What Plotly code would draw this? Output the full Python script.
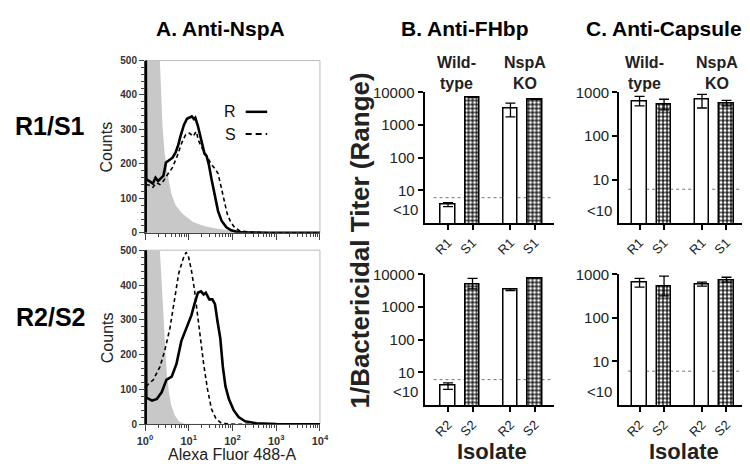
import math
import plotly.graph_objects as go

# ---------------- Panel A data: flow cytometry histograms ----------------
# x values are log10(Alexa Fluor 488-A), y values are counts
CTRL1_LOG = [0.0, 0.30, 0.34, 0.37, 0.40, 0.45, 0.52, 0.60, 0.70, 0.85, 1.00, 1.10, 1.25, 1.40, 1.60, 1.75, 1.90, 2.10, 2.30, 2.60]
CTRL1_COUNTS = [2000, 600, 500, 400, 310, 230, 168, 115, 80, 56, 40, 31, 24, 18, 13, 10, 7, 4, 2, 0]

R1_LOG = [0.015, 0.015, 0.03, 0.10, 0.18, 0.24, 0.30, 0.36, 0.42, 0.48, 0.56, 0.63, 0.70, 0.76, 0.81, 0.89, 0.96, 1.02, 1.07, 1.12, 1.15, 1.21, 1.28, 1.36, 1.41, 1.46, 1.52, 1.60, 1.67, 1.75, 1.86, 1.97, 2.12, 2.40, 2.80, 4.00]
R1_COUNTS = [0, 600, 155, 150, 143, 160, 150, 158, 165, 204, 212, 218, 233, 255, 280, 313, 331, 334, 338, 330, 334, 310, 268, 230, 222, 198, 156, 100, 63, 35, 16, 7, 2, 1, 0, 0]

S1_LOG = [0.02, 0.10, 0.18, 0.26, 0.34, 0.42, 0.52, 0.63, 0.74, 0.84, 0.93, 1.02, 1.10, 1.17, 1.23, 1.32, 1.41, 1.51, 1.60, 1.67, 1.73, 1.81, 1.88, 1.96, 2.05, 2.16, 2.40, 2.80, 4.00]
S1_COUNTS = [140, 138, 132, 145, 140, 150, 170, 190, 224, 261, 285, 289, 280, 294, 266, 242, 224, 200, 186, 172, 139, 92, 55, 31, 15, 6, 2, 0, 0]

CTRL2_LOG = [0.0, 0.30, 0.34, 0.38, 0.42, 0.46, 0.50, 0.55, 0.60, 0.68, 0.78, 0.90, 1.00]
CTRL2_COUNTS = [2000, 600, 500, 420, 320, 220, 145, 90, 55, 26, 8, 2, 0]

R2_LOG = [0.015, 0.015, 0.03, 0.16, 0.27, 0.38, 0.49, 0.61, 0.72, 0.83, 0.94, 1.06, 1.13, 1.21, 1.28, 1.34, 1.39, 1.47, 1.54, 1.60, 1.66, 1.72, 1.78, 1.84, 1.92, 2.03, 2.14, 2.29, 2.55, 3.00, 4.00]
R2_COUNTS = [0, 600, 77, 68, 73, 92, 128, 137, 174, 239, 276, 313, 345, 378, 382, 373, 378, 359, 359, 345, 294, 248, 165, 109, 72, 40, 21, 9, 3, 1, 0]

S2_LOG = [0.02, 0.19, 0.34, 0.45, 0.57, 0.68, 0.77, 0.87, 0.94, 0.99, 1.06, 1.13, 1.19, 1.27, 1.34, 1.43, 1.52, 1.62, 1.73, 1.90, 2.20, 4.00]
S2_COUNTS = [109, 128, 165, 211, 276, 359, 433, 475, 494, 484, 443, 387, 322, 248, 174, 100, 44, 17, 5, 1, 0, 0]

HIST_DECADES = [0, 1, 2, 3, 4]
HIST_TICKTEXT = ["10<sup>0</sup>", "10<sup>1</sup>", "10<sup>2</sup>", "10<sup>3</sup>", "10<sup>4</sup>"]
COUNT_TICKS = [0, 100, 200, 300, 400, 500]

# ---------------- Panels B and C data: bactericidal titers ----------------
ISOLATES_1 = ["R1", "S1", "R1", "S1"]
ISOLATES_2 = ["R2", "S2", "R2", "S2"]
GROUPS = ["Wild-<br>type", "NspA<br>KO"]

FHBP_1 = [3.7, 7000, 3300, 6200]
FHBP_1_LO = [3.2, 7000, 1800, 6200]
FHBP_1_HI = [4.2, 7000, 4700, 6200]

FHBP_2 = [3.9, 5100, 3400, 7800]
FHBP_2_LO = [3.0, 3600, 3200, 7800]
FHBP_2_HI = [4.8, 7600, 3600, 7800]

CAP_1 = [630, 540, 700, 570]
CAP_1_LO = [490, 400, 440, 490]
CAP_1_HI = [810, 700, 900, 660]

CAP_2 = [665, 540, 600, 740]
CAP_2_LO = [510, 320, 540, 665]
CAP_2_HI = [810, 910, 665, 860]

DETECTION_LIMIT = 6
TITER_TICKS = [10, 100, 1000, 10000]

# ---------------- layout helpers ----------------
W, H = 750, 464


def px(x):
    return x / W


def py(y):
    return 1 - y / H


FONT = "Liberation Sans"
BAR_POS = [0, 1, 2.55, 3.55]

fig = go.Figure()

# ---- histogram traces ----
hist_sets = [
    ("x", "y", CTRL1_LOG, CTRL1_COUNTS, R1_LOG, R1_COUNTS, S1_LOG, S1_COUNTS),
    ("x2", "y2", CTRL2_LOG, CTRL2_COUNTS, R2_LOG, R2_COUNTS, S2_LOG, S2_COUNTS),
]
for xa, ya, cl, cc, rl, rc, sl, sc in hist_sets:
    fig.add_trace(go.Scatter(x=cl, y=cc, xaxis=xa, yaxis=ya, mode="lines",
                             line=dict(width=0, color="#c8c8c8"), fill="tozeroy",
                             fillcolor="#c8c8c8", showlegend=False, hoverinfo="skip"))
    fig.add_trace(go.Scatter(x=sl, y=sc, xaxis=xa, yaxis=ya, mode="lines",
                             line=dict(width=1.6, color="black", dash="4px,3px"),
                             showlegend=False))
    fig.add_trace(go.Scatter(x=rl, y=rc, xaxis=xa, yaxis=ya, mode="lines",
                             line=dict(width=2.6, color="black"), showlegend=False))

# ---- bar traces ----
bar_sets = [
    ("x3", "y3", FHBP_1, FHBP_1_LO, FHBP_1_HI),
    ("x4", "y4", FHBP_2, FHBP_2_LO, FHBP_2_HI),
    ("x5", "y5", CAP_1, CAP_1_LO, CAP_1_HI),
    ("x6", "y6", CAP_2, CAP_2_LO, CAP_2_HI),
]
for xa, ya, vals, lo, hi in bar_sets:
    for idxs, is_s in (([0, 2], False), ([1, 3], True)):
        v = [vals[i] for i in idxs]
        e_plus = [hi[i] - vals[i] for i in idxs]
        e_minus = [vals[i] - lo[i] for i in idxs]
        marker = dict(color="white", line=dict(color="black", width=1.5))
        if is_s:
            marker = dict(color="#222",
                          line=dict(color="black", width=1.5),
                          pattern=dict(shape=".", fgcolor="white", bgcolor="#222",
                                       size=4, solidity=0.45, fillmode="replace"))
        fig.add_trace(go.Bar(
            x=[BAR_POS[i] for i in idxs], y=v, xaxis=xa, yaxis=ya, width=0.6,
            marker=marker, showlegend=False,
            error_y=dict(type="data", symmetric=False, array=e_plus, arrayminus=e_minus,
                         color="black", thickness=1.3, width=5),
        ))

# ---- axes ----
minor_hist = [math.log10(k * 10 ** n) for n in range(4) for k in range(2, 10)]
hist_tickfont = dict(family=FONT, size=10, color="#333", weight="bold")


def hist_x(domain, anchor, labels):
    return dict(domain=domain, anchor=anchor, range=[0, 4], tickmode="array",
                tickvals=HIST_DECADES, ticktext=HIST_TICKTEXT, showticklabels=labels,
                ticks="outside", ticklen=6, tickcolor="#444", tickwidth=1,
                showline=True, linecolor="#444", linewidth=1, showgrid=False, zeroline=False,
                tickfont=dict(family=FONT, size=11, color="#333", weight="bold"),
                minor=dict(tickmode="array", tickvals=minor_hist, ticks="outside",
                           ticklen=3, tickcolor="#444", showgrid=False))


def hist_y(domain, anchor):
    return dict(domain=domain, anchor=anchor, range=[0, 500], tickmode="array",
                tickvals=COUNT_TICKS, ticks="outside", ticklen=5, tickcolor="#444",
                showline=True, linecolor="#444", linewidth=1, showgrid=False, zeroline=False,
                tickfont=hist_tickfont,
                minor=dict(dtick=20, ticks="outside", ticklen=3, tickcolor="#444", showgrid=False))


def bar_x(domain, anchor, rng, labels):
    return dict(domain=domain, anchor=anchor, range=rng, tickmode="array",
                tickvals=BAR_POS, ticktext=labels, tickangle=-45,
                ticks="outside", ticklen=5, tickwidth=1.5, tickcolor="black",
                showline=True, linecolor="black", linewidth=1.8, showgrid=False, zeroline=False,
                tickfont=dict(family=FONT, size=13, color="#222"))


def bar_y(domain, anchor, top):
    return dict(domain=domain, anchor=anchor, type="log", range=[0, top], tickmode="array",
                tickvals=TITER_TICKS[:top], ticktext=[str(t) for t in TITER_TICKS[:top]],
                ticks="outside", ticklen=5, tickwidth=1.5, tickcolor="black",
                showline=True, linecolor="black", linewidth=1.8, showgrid=False, zeroline=False,
                tickfont=dict(family=FONT, size=15, color="#222"))


top_hist = [py(223), py(45)]
bot_hist = [py(421), py(241)]
top_bar = [py(213), py(78)]
bot_bar = [py(401), py(266)]
hist_dom = [px(132), px(311)]
b_dom = [px(418), px(550)]
c_dom = [px(617), 1.0]
b_rng = [-0.96, 4.31]
c_rng = [-0.84, 4.47]

fig.update_layout(
    xaxis=hist_x(hist_dom, "y", False), yaxis=hist_y(top_hist, "x"),
    xaxis2=hist_x(hist_dom, "y2", True), yaxis2=hist_y(bot_hist, "x2"),
    xaxis3=bar_x(b_dom, "y3", b_rng, ISOLATES_1), yaxis3=bar_y(top_bar, "x3", 4),
    xaxis4=bar_x(b_dom, "y4", b_rng, ISOLATES_2), yaxis4=bar_y(bot_bar, "x4", 4),
    xaxis5=bar_x(c_dom, "y5", c_rng, ISOLATES_1), yaxis5=bar_y(top_bar, "x5", 3),
    xaxis6=bar_x(c_dom, "y6", c_rng, ISOLATES_2), yaxis6=bar_y(bot_bar, "x6", 3),
)

shapes = []
# histogram frame (top/right light grey)
for xa, ya in (("x", "y"), ("x2", "y2")):
    shapes.append(dict(type="rect", xref=f"{xa} domain", yref=f"{ya} domain",
                       x0=0, x1=1, y0=0, y1=1, line=dict(color="#bbb", width=1), layer="below"))
# detection limit dotted lines
for xa, ya in (("x3", "y3"), ("x4", "y4"), ("x5", "y5"), ("x6", "y6")):
    shapes.append(dict(type="line", xref=f"{xa} domain", yref=ya, x0=0.07, x1=1,
                       y0=DETECTION_LIMIT, y1=DETECTION_LIMIT,
                       line=dict(color="#777", width=1, dash="dot"), layer="below"))
# legend samples
shapes.append(dict(type="line", xref="paper", yref="paper", x0=px(235), x1=px(257),
                   y0=py(98), y1=py(98), line=dict(color="black", width=2.5)))
shapes.append(dict(type="line", xref="paper", yref="paper", x0=px(235), x1=px(257),
                   y0=py(121), y1=py(121), line=dict(color="black", width=2, dash="6px,4px")))

ann = []


def text(x, y, s, size, bold=False, angle=0, xanchor="center", color="black"):
    ann.append(dict(x=px(x), y=py(y), xref="paper", yref="paper", text=s, showarrow=False,
                    xanchor=xanchor, yanchor="middle", textangle=angle,
                    font=dict(family=FONT, size=size, color=color,
                              weight="bold" if bold else "normal")))


text(209, 12, "A. Anti-NspA", 21, True)
text(459, 12, "B. Anti-FHbp", 21, True)
text(663, 12, "C. Anti-Capsule", 21, True)
text(35, 113, "R1/S1", 25, True)
text(35, 310, "R2/S2", 25, True)
text(93, 134, "Counts", 16, angle=-90, color="#222")
text(93, 331, "Counts", 16, angle=-90, color="#222")
text(221, 452, "Alexa Fluor 488-A", 16, color="#222")
text(219, 98, "R", 16, color="#111")
text(219, 121, "S", 16, color="#111")
text(352, 231, "1/Bactericidal Titer (Range)", 26, True, angle=-90, color="#222")
text(487, 449, "Isolate", 22, True, color="#222")
text(683, 449, "Isolate", 22, True, color="#222")
text(451, 58, GROUPS[0], 16, True, color="#222")
text(521, 58, GROUPS[1], 16, True, color="#222")
text(643, 58, GROUPS[0], 16, True, color="#222")
text(717, 58, GROUPS[1], 16, True, color="#222")

# "<10" labels under the detection limit
for xa, ya, xpix, yval in (("x3", "y3", 413, 0.42), ("x4", "y4", 413, 0.4),
                           ("x5", "y5", 612, 0.3), ("x6", "y6", 612, 0.3)):
    ann.append(dict(x=px(xpix), xref="paper", y=yval, yref=ya, text="<10", showarrow=False,
                    xanchor="right", yanchor="middle",
                    font=dict(family=FONT, size=15, color="#222")))

fig.update_layout(
    width=W, height=H, autosize=False,
    margin=dict(l=0, r=0, t=0, b=0),
    paper_bgcolor="white", plot_bgcolor="white",
    shapes=shapes, annotations=ann, bargap=0, showlegend=False,
    font=dict(family=FONT),
)

fig.write_html("out.html")
